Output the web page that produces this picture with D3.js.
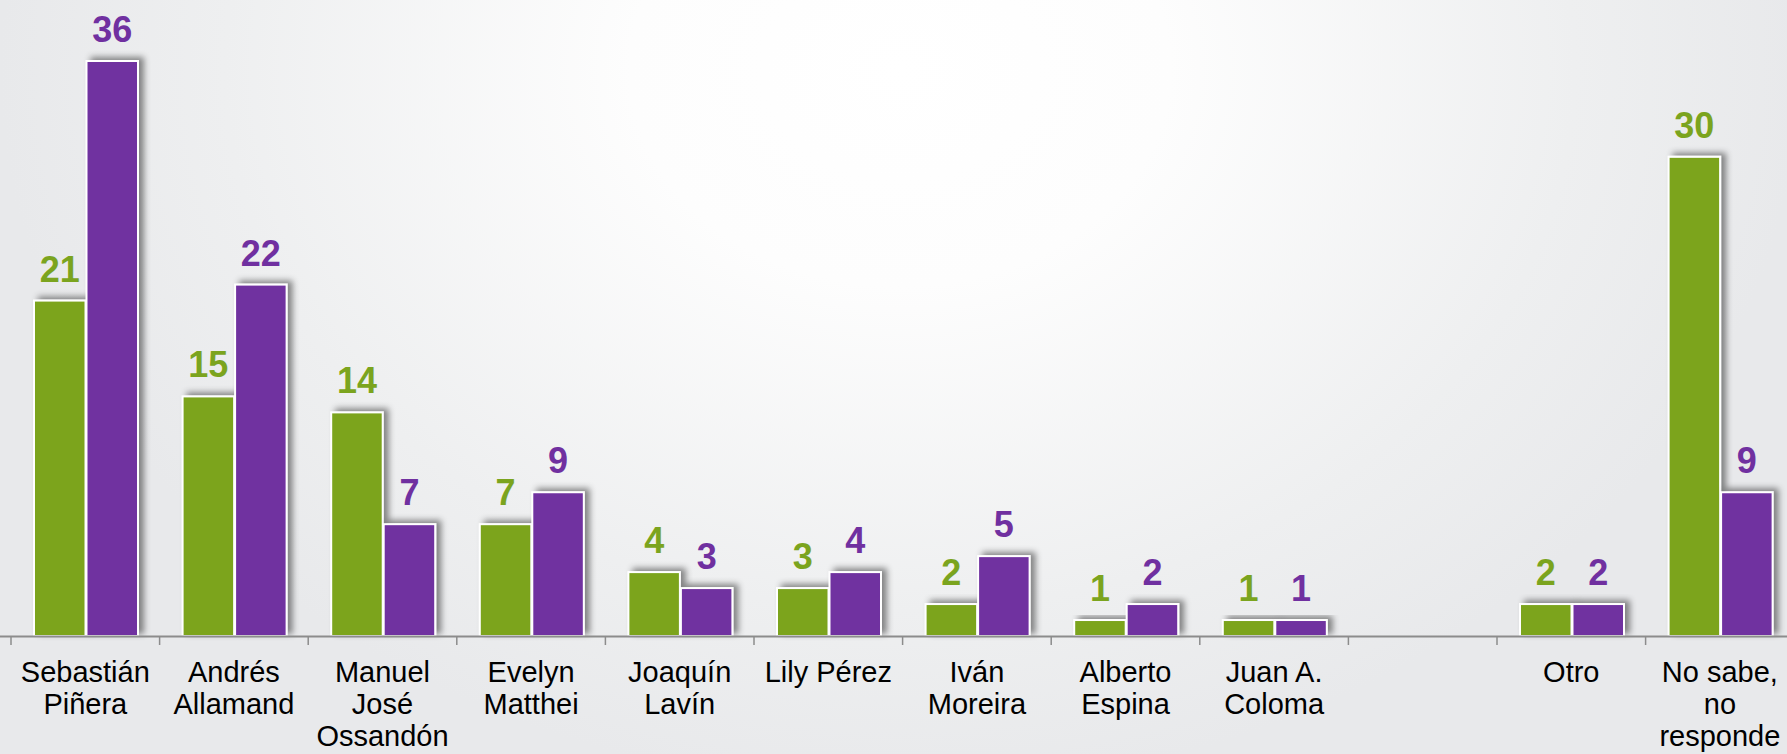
<!DOCTYPE html>
<html>
<head>
<meta charset="utf-8">
<script src="https://cdn.jsdelivr.net/npm/d3@7"></script>
<style>
html,body{margin:0;padding:0;overflow:hidden;background:#e9eaec;}
svg{display:block;}
</style>
</head>
<body>
<svg id="chart" width="1787" height="754"></svg>
<script>
const categories = [
  ["Sebastián","Piñera"],
  ["Andrés","Allamand"],
  ["Manuel","José","Ossandón"],
  ["Evelyn","Matthei"],
  ["Joaquín","Lavín"],
  ["Lily Pérez"],
  ["Iván","Moreira"],
  ["Alberto","Espina"],
  ["Juan A.","Coloma"],
  [""],
  ["Otro"],
  ["No sabe,","no","responde"]
];
const greenValues  = [21, 15, 14, 7, 4, 3, 2, 1, 1, null, 2, 30];
const purpleValues = [36, 22, 7, 9, 3, 4, 5, 2, 1, null, 2, 9];
const seriesColors = ["#7ba41e", "#7030a0"];

const W = 1787, H = 754;
const svg = d3.select("#chart");
const defs = svg.append("defs");

const grad = defs.append("radialGradient")
  .attr("id","bg").attr("gradientUnits","userSpaceOnUse")
  .attr("cx",900).attr("cy",70).attr("r",900)
  .attr("gradientTransform","translate(900,70) scale(1,0.8) translate(-900,-70)");
grad.append("stop").attr("offset","0").attr("stop-color","#ffffff");
grad.append("stop").attr("offset","0.3").attr("stop-color","#fdfdfd");
grad.append("stop").attr("offset","0.75").attr("stop-color","#eeeff0");
grad.append("stop").attr("offset","1").attr("stop-color","#e8e9eb");
svg.append("rect").attr("width",W).attr("height",H).attr("fill","url(#bg)");

const shadow = defs.append("filter").attr("id","shadow")
  .attr("x","-30%").attr("y","-30%").attr("width","160%").attr("height","160%");
shadow.append("feDropShadow").attr("dx",5).attr("dy",-3)
  .attr("stdDeviation",3).attr("flood-color","#000").attr("flood-opacity",0.45);

const baseY = 636;
const y = d3.scaleLinear().domain([0, 36]).range([baseY, 61]);
const x = d3.scaleBand().domain(d3.range(categories.length))
  .range([11, 11 + 148.6 * categories.length]).padding(0);
const xs = d3.scaleBand().domain([0,1]).range([22, 127]).padding(0);

const data = categories.map((c, i) => ({i, vals: [greenValues[i], purpleValues[i]]}));

const groups = svg.append("g").selectAll("g").data(data).join("g")
  .attr("transform", d => `translate(${x(d.i)},0)`);

const bars = groups.selectAll("g.bar")
  .data(d => d.vals.map((v, s) => ({v, s})).filter(e => e.v != null))
  .join("g").attr("class","bar");

bars.append("rect")
  .attr("x", e => xs(e.s) + 1)
  .attr("y", e => y(e.v))
  .attr("width", xs.bandwidth() - 1)
  .attr("height", e => baseY - y(e.v))
  .attr("fill", e => seriesColors[e.s])
  .attr("stroke", "#ffffff")
  .attr("stroke-width", 2)
  .attr("filter", "url(#shadow)");

bars.append("text")
  .attr("x", e => xs(e.s) + xs.bandwidth()/2 + 0.5)
  .attr("y", e => y(e.v) - 19)
  .attr("text-anchor","middle")
  .attr("font-family","'Liberation Sans', Arial, sans-serif")
  .attr("font-weight","bold")
  .attr("font-size","36px")
  .attr("fill", e => seriesColors[e.s])
  .text(e => e.v);

const axisG = svg.append("g").attr("transform", `translate(0,${baseY})`);
axisG.append("line").attr("x1",0).attr("x2",W).attr("y1",0.5).attr("y2",0.5)
  .attr("stroke","#8c8c8c").attr("stroke-width",2);
const bounds = d3.range(categories.length + 1).map(k => 11 + k * x.step());
axisG.selectAll("line.tick").data(bounds).join("line").attr("class","tick")
  .attr("x1", d => d).attr("x2", d => d).attr("y1", 0).attr("y2", 9)
  .attr("stroke","#8c8c8c").attr("stroke-width",1.5);

const labels = svg.append("g").selectAll("text").data(categories).join("text")
  .attr("x", (c, i) => x(i) + x.bandwidth()/2)
  .attr("y", 682)
  .attr("text-anchor","middle")
  .attr("font-family","'Liberation Sans', Arial, sans-serif")
  .attr("font-size","29px")
  .attr("fill","#000");
labels.selectAll("tspan").data(c => c).join("tspan")
  .attr("x", function(){ return this.parentNode.getAttribute("x"); })
  .attr("dy", (t, j) => j === 0 ? 0 : 32)
  .text(t => t);
</script>
</body>
</html>
